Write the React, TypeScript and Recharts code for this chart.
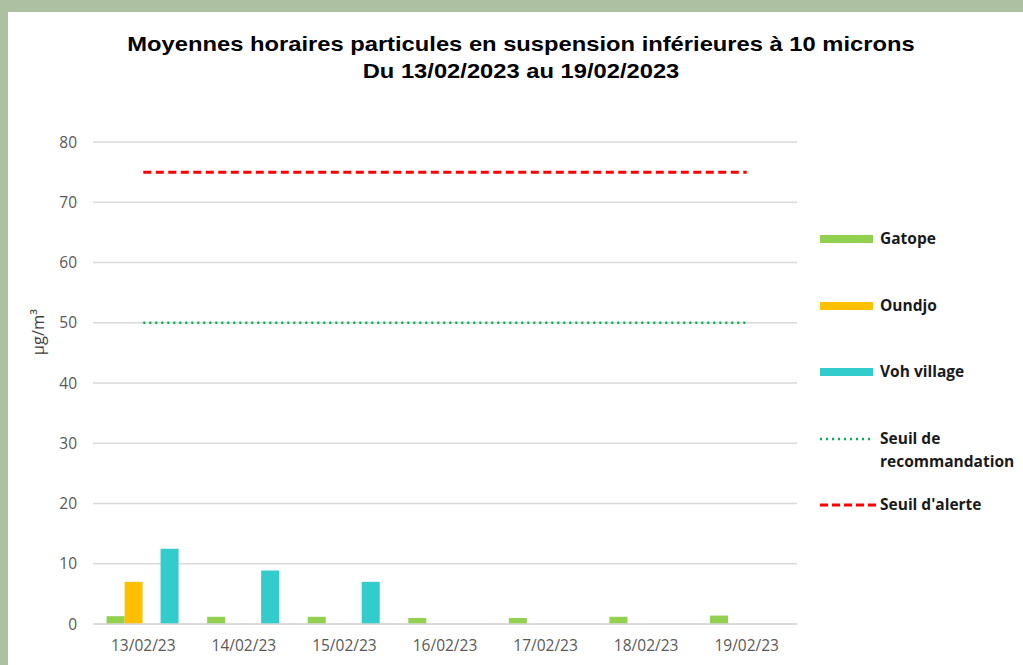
import React from 'react';
import { ComposedChart, Bar, Line, XAxis, YAxis, CartesianGrid, Legend } from 'recharts';

const categories = ['13/02/23', '14/02/23', '15/02/23', '16/02/23', '17/02/23', '18/02/23', '19/02/23'];
const gatope = [1.3, 1.2, 1.2, 1.0, 1.0, 1.2, 1.4];
const oundjo: (number | null)[] = [7.0, null, null, null, null, null, null];
const hidden: (number | null)[] = [null, null, null, null, null, null, null];
const voh: (number | null)[] = [12.5, 8.9, 7.0, null, null, null, null];
const seuilReco = [50, 50, 50, 50, 50, 50, 50];
const seuilAlerte = [75, 75, 75, 75, 75, 75, 75];
const yTicks = [0, 10, 20, 30, 40, 50, 60, 70, 80];

const data = categories.map((c, i) => ({
  date: c,
  gatope: gatope[i],
  oundjo: oundjo[i],
  hidden: hidden[i],
  voh: voh[i],
  reco: seuilReco[i],
  alerte: seuilAlerte[i],
}));

const legendFont = "'Open Sans', 'Noto Sans', sans-serif";
const tickFont = "'Open Sans', sans-serif";

const LegendContent = () => {
  const items = [
    { label: 'Gatope', type: 'bar', color: '#92D050', y: 239 },
    { label: 'Oundjo', type: 'bar', color: '#FFC000', y: 306 },
    { label: 'Voh village', type: 'bar', color: '#33CCCC', y: 372 },
    { label: 'Seuil de', label2: 'recommandation', type: 'dot', color: '#00B050', y: 439 },
    { label: "Seuil d'alerte", type: 'dash', color: '#FF0000', y: 505 },
  ];
  return (
    <svg width={230} height={400} style={{ position: 'absolute', left: 800, top: 0, overflow: 'visible' }}>
      {items.map((it) => (
        <g key={it.label}>
          {it.type === 'bar' && <rect x={20} y={it.y - 4} width={53} height={8} fill={it.color} />}
          {it.type === 'dot' && (
            <line x1={20} x2={73} y1={it.y} y2={it.y} stroke={it.color} strokeWidth={2.5} strokeDasharray="2 4" />
          )}
          {it.type === 'dash' && (
            <line x1={20} x2={77} y1={it.y} y2={it.y} stroke={it.color} strokeWidth={3} strokeDasharray="8 4" />
          )}
          <text x={80} y={it.y} dy="0.35em" fontFamily={legendFont} fontWeight={700} fontSize={15.5} fill="#1a1a1a">
            {it.label}
          </text>
          {it.label2 && (
            <text x={80} y={it.y + 23} dy="0.35em" fontFamily={legendFont} fontWeight={700} fontSize={15.5} fill="#1a1a1a">
              {it.label2}
            </text>
          )}
        </g>
      ))}
    </svg>
  );
};

const YLabel = () => (
  <text
    x={37}
    y={332}
    transform="rotate(-90 37 332)"
    textAnchor="middle"
    dominantBaseline="central"
    fill="#404040"
    fontSize={16.5}
    fontFamily={tickFont}
  >
    µg/m³
  </text>
);

export default function App() {
  return (
    <div style={{ position: 'absolute', left: 0, top: 0, width: 1023, height: 665, background: '#ADC0A1', overflow: 'hidden' }}>
      <div style={{ position: 'absolute', left: 8, top: 12, width: 1015, height: 653, background: '#FFFFFF' }} />
      <div
        style={{
          position: 'absolute',
          left: 0,
          top: 30,
          width: 1042,
          textAlign: 'center',
          fontFamily: "'Liberation Sans', Arial, sans-serif",
          fontWeight: 700,
          fontSize: 21,
          lineHeight: '27px',
          color: '#000',
          transform: 'scaleX(1.13)',
          transformOrigin: '521px 0',
        }}
      >
        <div>Moyennes horaires particules en suspension inférieures à 10 microns</div>
        <div>Du 13/02/2023 au 19/02/2023</div>
      </div>
      <div style={{ position: 'absolute', left: 0, top: 0 }}>
        <ComposedChart
          width={1023}
          height={665}
          data={data}
          margin={{ top: 142, right: 226, bottom: 11, left: 33 }}
          barCategoryGap="13.5%"
          barGap={0}
        >
          <CartesianGrid vertical={false} stroke="#D9D9D9" strokeWidth={1.5} />
          <XAxis
            dataKey="date"
            height={30}
            tickLine={false}
            tickMargin={10}
            axisLine={{ stroke: '#D9D9D9', strokeWidth: 1.5 }}
            tick={{ fill: '#595959', fontSize: 15.5, fontFamily: tickFont }}
          />
          <YAxis
            width={60}
            domain={[0, 80]}
            ticks={yTicks}
            tickLine={false}
            axisLine={false}
            tickMargin={10}
            tick={{ fill: '#595959', fontSize: 15.5, fontFamily: tickFont }}
            label={{ content: () => <YLabel /> }}
          />
          <Bar dataKey="gatope" name="Gatope" fill="#92D050" isAnimationActive={false} />
          <Bar dataKey="oundjo" name="Oundjo" fill="#FFC000" isAnimationActive={false} />
          <Bar dataKey="hidden" name="hidden" fill="#999999" legendType="none" isAnimationActive={false} />
          <Bar dataKey="voh" name="Voh village" fill="#33CCCC" isAnimationActive={false} />
          <Line
            dataKey="reco"
            name="Seuil de recommandation"
            stroke="#00B050"
            strokeWidth={2.5}
            strokeDasharray="2 4"
            dot={false}
            activeDot={false}
            isAnimationActive={false}
          />
          <Line
            dataKey="alerte"
            name="Seuil d'alerte"
            stroke="#FF0000"
            strokeWidth={3}
            strokeDasharray="8 4.5"
            dot={false}
            activeDot={false}
            isAnimationActive={false}
          />
          <Legend content={() => null} />
        </ComposedChart>
        <LegendContent />
      </div>
    </div>
  );
}
